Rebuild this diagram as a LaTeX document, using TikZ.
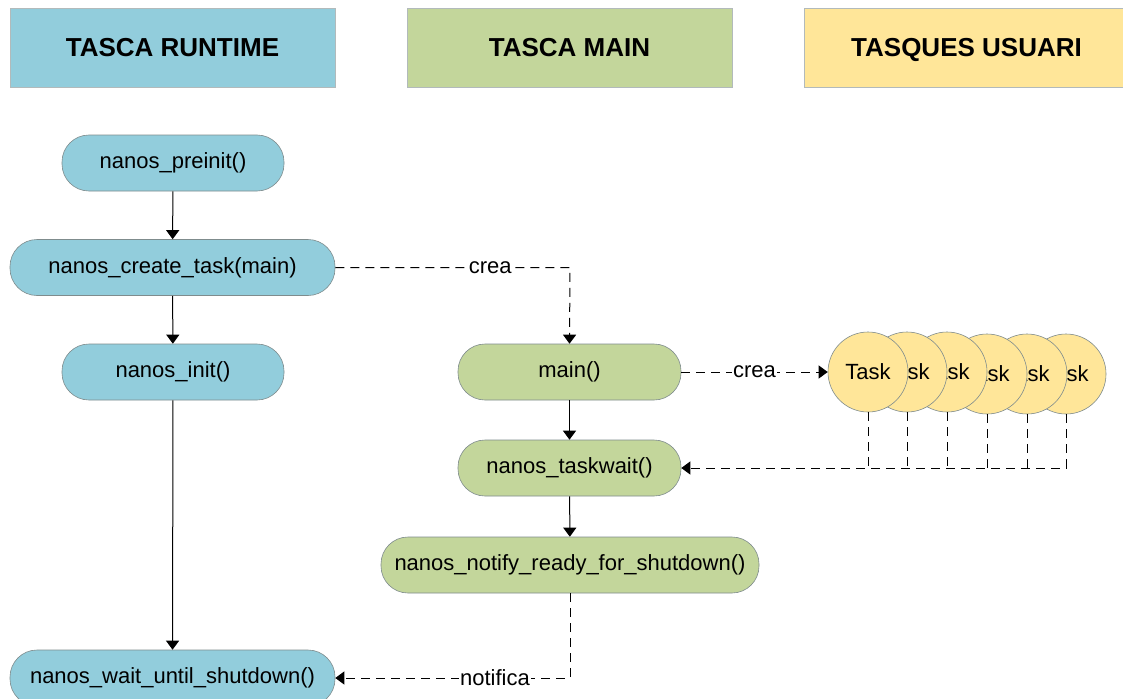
\documentclass[tikz,border=0pt]{standalone}
\usepackage{fontspec}
\setmainfont{Liberation Sans}
\usetikzlibrary{arrows.meta}
\definecolor{rtblue}{HTML}{92CDDC}
\definecolor{mngreen}{HTML}{C3D69B}
\definecolor{usyellow}{HTML}{FFE699}
\definecolor{edgegray}{HTML}{7F8C8D}
\tikzset{
  header/.style={draw=edgegray!60, line width=0.6pt, minimum width=325pt, minimum height=79pt,
    font=\fontsize{26}{30}\selectfont\bfseries, inner sep=0pt, text height=19pt, text depth=0pt},
  proc/.style={draw=edgegray, line width=0.6pt, minimum height=56pt, rounded corners=27pt,
    font=\fontsize{22}{26}\selectfont, inner sep=0pt, text height=15pt, text depth=4pt},
  rt/.style={proc, fill=rtblue},
  mn/.style={proc, fill=mngreen},
  usertask/.style={circle, draw=edgegray, line width=0.6pt, fill=usyellow, minimum size=80pt,
    inner sep=0pt, font=\fontsize{22}{26}\selectfont},
  flow/.style={line width=1pt, -{Triangle[length=9pt,width=13pt]}},
  msg/.style={line width=1pt, dash pattern=on 9pt off 6pt, -{Triangle[length=9pt,width=13pt]}},
  msgline/.style={line width=1pt, dash pattern=on 9pt off 6pt},
  lbl/.style={fill=white, inner sep=1pt, font=\fontsize{22}{26}\selectfont}
}
\begin{document}
\begin{tikzpicture}[x=1pt,y=-1pt]
\useasboundingbox (0,0) rectangle (1123,698);
\fill[white] (0,0) rectangle (1123,698);

% column headers
\node[header, fill=rtblue]   (hrt) at (172.5,47.5) {TASCA RUNTIME};
\node[header, fill=mngreen]  (hmn) at (569.5,47.5) {TASCA MAIN};
\node[header, fill=usyellow] (hus) at (966.5,47.5) {TASQUES USUARI};

% runtime task
\node[rt, minimum width=222pt] (preinit) at (173,163) {nanos\_preinit()};
\node[rt, minimum width=325pt] (create)  at (172.5,267.5) {nanos\_create\_task(main)};
\node[rt, minimum width=222pt] (init)    at (173,372) {nanos\_init()};
\node[rt, minimum width=325pt] (waitsd)  at (172.5,678) {nanos\_wait\_until\_shutdown()};

% main task
\node[mn, minimum width=223pt] (main)     at (569.5,372) {main()};
\node[mn, minimum width=223pt] (taskwait) at (569.5,468) {nanos\_taskwait()};
\node[mn, minimum width=378pt] (notify)   at (570,565) {nanos\_notify\_ready\_for\_shutdown()};

% user tasks, stacked right to left
\node[usertask] (t6) at (1066,374) {Task};
\node[usertask] (t5) at (1027,374) {Task};
\node[usertask] (t4) at (987,374) {Task};
\node[usertask] (t3) at (947,372) {Task};
\node[usertask] (t2) at (907,372) {Task};
\node[usertask] (t1) at (868,372) {Task};

% control flow
\draw[flow] (preinit) -- (create);
\draw[flow] (create) -- (init);
\draw[flow] (init) -- (waitsd);
\draw[flow] (main) -- (taskwait);
\draw[flow] (taskwait) -- (notify);

% creation and notification messages
\coordinate (c1) at (570,267.5);
\draw[msg] (create.east) -- node[lbl, pos=0.66] {crea} (c1) -- (main.north);
\draw[msg] (main.east) -- node[lbl] {crea} (t1.west);
\coordinate (c2) at (570,678);
\draw[msg] (notify.south) -- (c2) -- node[lbl, pos=0.32] {notifica} (waitsd.east);

% completion of the user tasks
\draw[msg] (t6.south) -- (t6.south |- taskwait.east) -- (taskwait.east);
\foreach \t in {t1,t2,t3,t4,t5}
  \draw[msgline] (\t.south) -- (\t.south |- taskwait.east);
\end{tikzpicture}
\end{document}
